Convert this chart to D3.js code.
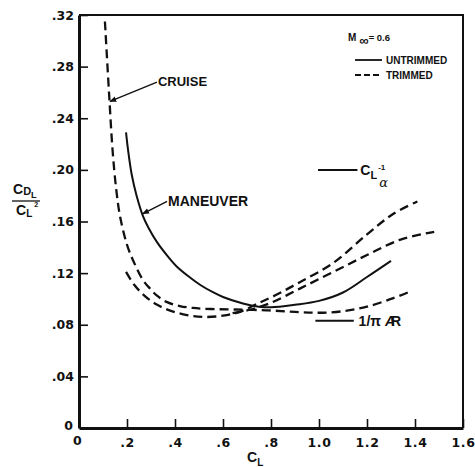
<!DOCTYPE html>
<html>
<head>
<meta charset="utf-8">
<script src="https://cdn.jsdelivr.net/npm/d3@7"></script>
<style>
  body { margin: 0; background: #fff; }
  svg { display: block; }
  text { font-weight: bold; fill: #111; }
</style>
</head>
<body>
<svg id="chart" width="475" height="467"></svg>
<script>
// Axis ticks
const xTicks = [0, 0.2, 0.4, 0.6, 0.8, 1.0, 1.2, 1.4, 1.6];
const yTicks = [0, 0.04, 0.08, 0.12, 0.16, 0.20, 0.24, 0.28, 0.32];

// Cruise, trimmed (dashed)
const cruiseTrimCL = [0.108, 0.125, 0.14, 0.155, 0.171, 0.2, 0.225, 0.267, 0.296, 0.325, 0.367, 0.42, 0.475, 0.55, 0.65, 0.78, 0.9, 1.0, 1.1, 1.2, 1.3, 1.37];
const cruiseTrimCD = [0.315, 0.26, 0.215, 0.185, 0.164, 0.142, 0.130, 0.1145, 0.108, 0.1025, 0.0975, 0.0945, 0.093, 0.0922, 0.0918, 0.0912, 0.090, 0.0893, 0.0905, 0.094, 0.100, 0.105];

// Maneuver, untrimmed (solid)
const manUntrimCL = [0.196, 0.204, 0.22, 0.24, 0.267, 0.29, 0.325, 0.37, 0.408, 0.46, 0.504, 0.56, 0.6, 0.683, 0.75, 0.8, 0.9, 1.0, 1.1, 1.2, 1.3];
const manUntrimCD = [0.229, 0.216, 0.196, 0.180, 0.164, 0.155, 0.144, 0.133, 0.125, 0.117, 0.111, 0.105, 0.1015, 0.0965, 0.094, 0.0935, 0.0955, 0.0985, 0.105, 0.117, 0.1295];

// Maneuver, trimmed (dashed)
const manTrimCL = [0.196, 0.23, 0.27, 0.32, 0.38, 0.45, 0.52, 0.6, 0.67, 0.74, 0.82, 0.92, 1.06, 1.2, 1.31, 1.41];
const manTrimCD = [0.121, 0.111, 0.103, 0.096, 0.091, 0.0875, 0.086, 0.087, 0.090, 0.096, 0.103, 0.113, 0.128, 0.150, 0.166, 0.1755];

// Trimmed branch ending at the highest lift coefficient (dashed)
const branchTrimCL = [0.64, 0.72, 0.8, 0.92, 1.06, 1.2, 1.34, 1.48];
const branchTrimCD = [0.089, 0.092, 0.097, 0.108, 0.121, 0.134, 0.146, 0.152];

// Reference levels
const invPiAR = 0.0831;      // 1/πAR marker
const invCLalpha = 0.200;    // C_Lα^-1 marker

const svg = d3.select("#chart");
const x = d3.scaleLinear().domain([0, 1.6]).range([79, 463]);
const y = d3.scaleLinear().domain([0, 0.32]).range([428, 15]);

const tickFont = "'DejaVu Sans', sans-serif";
const labelFont = "'Liberation Sans', Arial, sans-serif";

// arrowhead for the leaders
svg.append("defs").append("marker")
  .attr("id", "arr").attr("viewBox", "0 0 10 10").attr("refX", 9).attr("refY", 5)
  .attr("markerWidth", 7).attr("markerHeight", 7).attr("orient", "auto")
  .attr("markerUnits", "userSpaceOnUse")
  .append("path").attr("d", "M0,1 L10,5 L0,9 z").attr("fill", "#111");

// frame (top and right)
svg.append("path")
  .attr("d", `M${x(0)},${y(0.32)} H${x(1.6)} V${y(0)}`)
  .attr("fill", "none").attr("stroke", "#111").attr("stroke-width", 2);

const fmt = d => d === 0 ? "0" : (d < 1 ? d3.format(".2f")(d).replace(/^0/, "") : d3.format(".2f")(d));
const fmtX = d => d === 0 ? "0" : (d < 1 ? d3.format(".1f")(d).replace(/^0/, "") : d3.format(".1f")(d));

const yAxis = svg.append("g").attr("transform", `translate(${x(0)},0)`)
  .call(d3.axisLeft(y).tickValues(yTicks).tickFormat(fmt).tickSizeInner(-9).tickSizeOuter(0).tickPadding(5));
const xAxis = svg.append("g").attr("transform", `translate(0,${y(0)})`)
  .call(d3.axisBottom(x).tickValues(xTicks).tickFormat(fmtX).tickSizeInner(-9).tickSizeOuter(0).tickPadding(10));

[yAxis, xAxis].forEach(g => {
  g.select(".domain").attr("stroke", "#111").attr("stroke-width", 3);
  g.selectAll(".tick line").attr("stroke", "#111").attr("stroke-width", 1.6);
  g.selectAll(".tick text").attr("fill", "#111").style("font-family", tickFont)
    .style("font-size", "12.5px").style("font-weight", "bold");
});
xAxis.selectAll(".tick text").style("letter-spacing", "0.6px");
xAxis.select(".tick text").attr("dx", "-0.15em").attr("dy", "0.55em");
xAxis.selectAll(".tick").filter(d => d === 0).select("line").remove();
yAxis.selectAll(".tick").filter(d => d === 0).select("line").remove();
yAxis.selectAll(".tick").filter(d => d === 0).select("text").attr("x", -6).attr("dy", "0.15em");

// curves
const line = d3.line().x(d => x(d[0])).y(d => y(d[1])).curve(d3.curveCatmullRom.alpha(0.5));
const zip = (a, b) => a.map((v, i) => [v, b[i]]);
const series = [
  { cl: cruiseTrimCL, cd: cruiseTrimCD, dashed: true },
  { cl: manTrimCL, cd: manTrimCD, dashed: true },
  { cl: branchTrimCL, cd: branchTrimCD, dashed: true },
  { cl: manUntrimCL, cd: manUntrimCD, dashed: false }
];
series.forEach(s => {
  svg.append("path").attr("d", line(zip(s.cl, s.cd)))
    .attr("fill", "none").attr("stroke", "#111")
    .attr("stroke-width", s.dashed ? 2.3 : 2)
    .attr("stroke-dasharray", s.dashed ? "9,5" : null);
});

// reference markers
svg.append("line").attr("x1", x(0.985)).attr("x2", x(1.145)).attr("y1", y(invPiAR)).attr("y2", y(invPiAR))
  .attr("stroke", "#111").attr("stroke-width", 2);
const ar = svg.append("text").attr("x", x(1.165)).attr("y", y(invPiAR) + 5)
  .style("font-family", labelFont).style("font-size", "14px");
ar.append("tspan").text("1/π ");
ar.append("tspan").text("A").style("font-style", "italic").style("letter-spacing", "-4px");
ar.append("tspan").text("R");

svg.append("line").attr("x1", x(0.996)).attr("x2", x(1.16)).attr("y1", y(invCLalpha)).attr("y2", y(invCLalpha))
  .attr("stroke", "#111").attr("stroke-width", 2);
const cla = svg.append("text").attr("x", x(1.172)).attr("y", y(invCLalpha) + 5)
  .style("font-family", labelFont).style("font-size", "14px");
cla.append("tspan").text("C");
cla.append("tspan").text("L").attr("dy", 4).style("font-size", "11px");
cla.append("tspan").text("-1").attr("dy", -9).attr("dx", 1).style("font-size", "8px");
svg.append("text").attr("x", x(1.172) + 19).attr("y", y(invCLalpha) + 17)
  .style("font-family", "'DejaVu Serif', serif").style("font-size", "13px").style("font-style", "italic").style("font-weight", "normal")
  .text("α");

// curve labels
svg.append("line").attr("x1", x(0.325)).attr("y1", y(0.268)).attr("x2", x(0.129)).attr("y2", y(0.253))
  .attr("stroke", "#111").attr("stroke-width", 1.4).attr("marker-end", "url(#arr)");
svg.append("text").attr("x", x(0.329)).attr("y", y(0.2687) + 5)
  .style("font-family", labelFont).style("font-size", "13px").text("CRUISE");

svg.append("line").attr("x1", x(0.367)).attr("y1", y(0.1755)).attr("x2", x(0.265)).attr("y2", y(0.166))
  .attr("stroke", "#111").attr("stroke-width", 1.4).attr("marker-end", "url(#arr)");
svg.append("text").attr("x", x(0.371)).attr("y", y(0.1763) + 5.5)
  .style("font-family", labelFont).style("font-size", "14px").text("MANEUVER");

// legend
const lg = svg.append("g").style("font-family", labelFont);
const mach = lg.append("text").attr("x", 348).attr("y", 41).style("font-size", "10px");
mach.append("tspan").text("M");
mach.append("tspan").text("∞").attr("dx", 3).attr("dy", 4).style("font-size", "13px");
mach.append("tspan").text("= 0.6").attr("dy", -4).style("font-size", "9.5px");
lg.append("line").attr("x1", 355).attr("x2", 382).attr("y1", 60).attr("y2", 60)
  .attr("stroke", "#111").attr("stroke-width", 1.8);
lg.append("text").attr("x", 386).attr("y", 64).style("font-size", "10px").text("UNTRIMMED");
lg.append("line").attr("x1", 355).attr("x2", 382).attr("y1", 75).attr("y2", 75)
  .attr("stroke", "#111").attr("stroke-width", 1.8).attr("stroke-dasharray", "6,3");
lg.append("text").attr("x", 386).attr("y", 79).style("font-size", "10px").text("TRIMMED");

// axis titles
const xt = svg.append("text").attr("x", 247).attr("y", 462)
  .style("font-family", labelFont).style("font-size", "14px");
xt.append("tspan").text("C");
xt.append("tspan").text("L").attr("dy", 4).style("font-size", "10px");

const yt = svg.append("g").style("font-family", labelFont);
const num = yt.append("text").attr("x", 13).attr("y", 194).style("font-size", "14px");
num.append("tspan").text("C");
num.append("tspan").text("D").attr("dy", 1).style("font-size", "11px");
num.append("tspan").text("L").attr("dy", 3).style("font-size", "9px");
yt.append("line").attr("x1", 12).attr("x2", 40).attr("y1", 201).attr("y2", 201)
  .attr("stroke", "#111").attr("stroke-width", 1.3);
const den = yt.append("text").attr("x", 16).attr("y", 215).style("font-size", "14px");
den.append("tspan").text("C");
den.append("tspan").text("L").attr("dy", 2).style("font-size", "10px");
den.append("tspan").text("2").attr("dx", 2).attr("dy", -10).style("font-size", "7px");
</script>
</body>
</html>
